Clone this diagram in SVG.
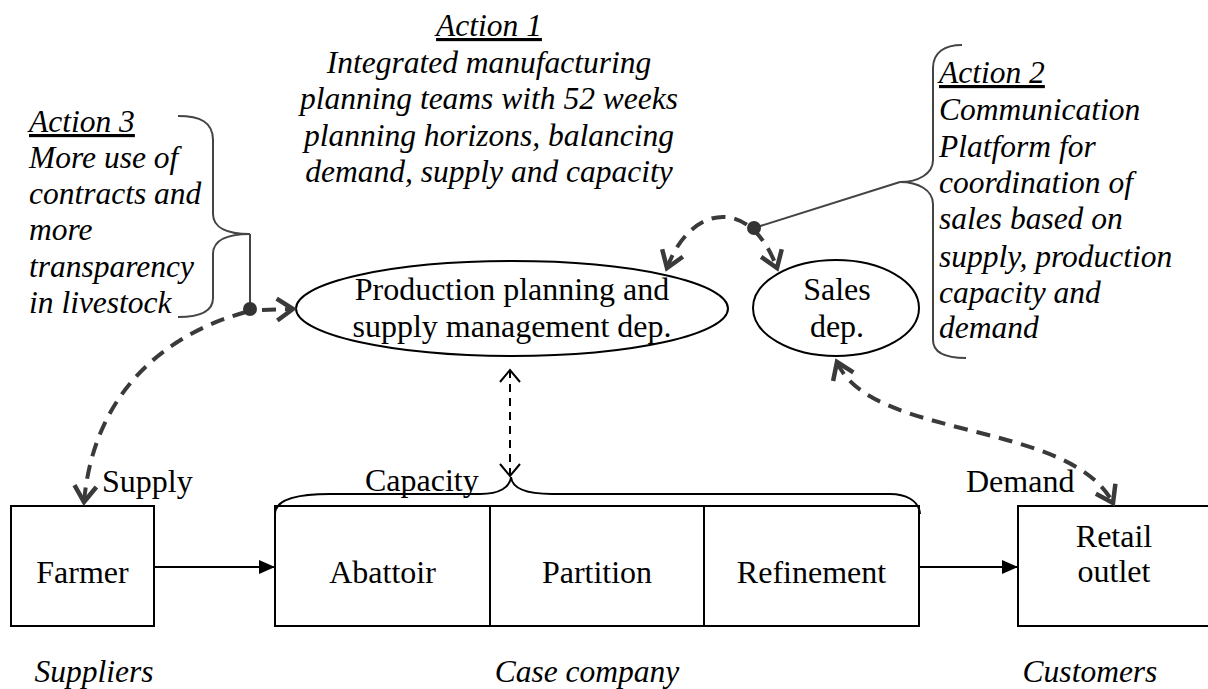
<svg xmlns="http://www.w3.org/2000/svg" width="1208" height="689" viewBox="0 0 1208 689">
  <style>
    .box { fill: #fff; stroke: #000; stroke-width: 2; }
    .ell { fill: #fff; stroke: #000; stroke-width: 2; }
    .lbl { font-family: "Liberation Serif", "Times New Roman", serif; font-size: 32px; fill: #000; }
    .it { font-family: "Liberation Serif", "Times New Roman", serif; font-size: 31.5px; font-style: italic; fill: #000; }
    .mid { text-anchor: middle; }
    .ul { text-decoration: underline; }
    .flow { fill: none; stroke: #000; stroke-width: 2; }
    .dash { fill: none; stroke: #3a3a3a; stroke-width: 4; stroke-dasharray: 14 9; }
    .thin { fill: none; stroke: #000; stroke-width: 2; stroke-dasharray: 8 6; }
    .brace { fill: none; stroke: #444; stroke-width: 2; }
    .dot { fill: #333; }
  </style>
  <defs>
    <marker id="tri" viewBox="0 0 16 14" refX="16" refY="7" markerWidth="16" markerHeight="14" markerUnits="userSpaceOnUse" orient="auto">
      <path d="M0,0 L16,7 L0,14 Z" fill="#000"/>
    </marker>
    <marker id="chev" viewBox="0 0 28 28" refX="20" refY="14" markerWidth="28" markerHeight="28" markerUnits="userSpaceOnUse" orient="auto-start-reverse">
      <path d="M4,3 L20,14 L4,25" fill="none" stroke="#3a3a3a" stroke-width="4.5" stroke-dasharray="none"/>
    </marker>
    <marker id="chevThin" viewBox="0 0 22 22" refX="13" refY="11" markerWidth="22" markerHeight="22" markerUnits="userSpaceOnUse" orient="auto-start-reverse">
      <path d="M1,1 L13,11 L1,21" fill="none" stroke="#000" stroke-width="2" stroke-dasharray="none"/>
    </marker>
  </defs>

  <!-- annotation: action 1 -->
  <g id="action1">
    <text class="it mid ul" x="489" y="36">Action 1</text>
    <text class="it mid" x="489" y="72.5">Integrated manufacturing</text>
    <text class="it mid" x="489" y="109">planning teams with 52 weeks</text>
    <text class="it mid" x="489" y="145.5">planning horizons, balancing</text>
    <text class="it mid" x="489" y="182">demand, supply and capacity</text>
  </g>

  <!-- annotation: action 3 with brace -->
  <g id="action3">
    <text class="it ul" x="29" y="132">Action 3</text>
    <text class="it" x="29" y="168">More use of</text>
    <text class="it" x="29" y="204">contracts and</text>
    <text class="it" x="29" y="240">more</text>
    <text class="it" x="29" y="277">transparency</text>
    <text class="it" x="29" y="313">in livestock</text>
    <path class="brace" d="M178,116 C200,116 213,122 213,140 L213,214 C213,228 228,234 250,234 C228,234 213,240 213,254 L213,298 C213,312 200,317 178,317"/>
  </g>

  <!-- annotation: action 2 with brace -->
  <g id="action2">
    <text class="it ul" x="939" y="83">Action 2</text>
    <text class="it" x="939" y="120">Communication</text>
    <text class="it" x="939" y="157">Platform for</text>
    <text class="it" x="939" y="193">coordination of</text>
    <text class="it" x="939" y="229">sales based on</text>
    <text class="it" x="939" y="267">supply, production</text>
    <text class="it" x="939" y="303">capacity and</text>
    <text class="it" x="939" y="338">demand</text>
    <path class="brace" d="M962,45 C945,45 933,52 933,68 L933,160 C933,174 918,182 900,182 C918,182 933,190 933,204 L933,340 C933,352 945,358 966,358"/>
  </g>

  <!-- departments -->
  <g id="production">
    <ellipse class="ell" cx="512" cy="308.5" rx="216" ry="47.5"/>
    <text class="lbl mid" x="512" y="300">Production planning and</text>
    <text class="lbl mid" x="512" y="337">supply management dep.</text>
  </g>
  <g id="sales">
    <ellipse class="ell" cx="836" cy="308" rx="83" ry="48"/>
    <text class="lbl mid" x="837" y="300">Sales</text>
    <text class="lbl mid" x="837" y="337">dep.</text>
  </g>

  <!-- supply chain -->
  <g id="farmer">
    <rect class="box" x="11" y="506" width="143" height="120"/>
    <text class="lbl mid" x="82.5" y="583">Farmer</text>
  </g>
  <g id="case-company">
    <rect class="box" x="275" y="506" width="644" height="120"/>
    <line class="flow" x1="490" y1="506" x2="490" y2="626"/>
    <line class="flow" x1="704" y1="506" x2="704" y2="626"/>
    <text class="lbl mid" x="382.5" y="583">Abattoir</text>
    <text class="lbl mid" x="597" y="583">Partition</text>
    <text class="lbl mid" x="811.5" y="583">Refinement</text>
    <path class="flow" d="M275,514 C275,500 295,494 330,494 L480,494 C500,494 510,487 511,477 C512,487 522,494 552,494 L890,494 C905,494 919,500 920,514"/>
  </g>
  <g id="retail">
    <rect class="box" x="1018" y="506" width="200" height="120"/>
    <text class="lbl mid" x="1114" y="547">Retail</text>
    <text class="lbl mid" x="1114" y="582">outlet</text>
  </g>

  <!-- flow labels and group captions -->
  <g id="labels">
    <text class="lbl" x="102" y="492">Supply</text>
    <text class="lbl" x="365" y="491">Capacity</text>
    <text class="lbl" x="966" y="492">Demand</text>
    <text class="it mid" x="94" y="682">Suppliers</text>
    <text class="it mid" x="587" y="682">Case company</text>
    <text class="it mid" x="1090" y="682">Customers</text>
  </g>

  <!-- connectors -->
  <g id="connectors">
    <line class="flow" x1="154" y1="567" x2="275" y2="567" marker-end="url(#tri)"/>
    <line class="flow" x1="919" y1="567" x2="1018" y2="567" marker-end="url(#tri)"/>
    <line class="thin" x1="510" y1="370" x2="510" y2="476" marker-start="url(#chevThin)" marker-end="url(#chevThin)"/>
    <path class="dash" d="M246,312 C180,330 95,380 84,502" marker-end="url(#chev)"/>
    <path class="dash" d="M262,310 L293,309" marker-end="url(#chev)"/>
    <path class="dash" d="M667,268 C690,205 750,195 777,268" marker-start="url(#chev)" marker-end="url(#chev)"/>
    <path class="dash" d="M837,362 C870,440 1070,420 1113,503" marker-start="url(#chev)" marker-end="url(#chev)"/>
    <line class="brace" x1="250" y1="234" x2="250" y2="309"/>
    <line class="brace" x1="754" y1="228" x2="900" y2="182"/>
    <circle class="dot" cx="250" cy="309" r="7"/>
    <circle class="dot" cx="754" cy="228" r="7"/>
  </g>
</svg>
